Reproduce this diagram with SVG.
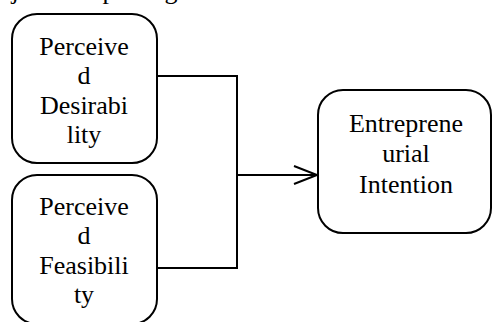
<svg xmlns="http://www.w3.org/2000/svg" width="493" height="322" viewBox="0 0 493 322">
<defs>
<style>
.box{fill:#fff;stroke:#000;stroke-width:2}
.t{font-family:"Liberation Serif","Times New Roman",serif;font-size:26px;fill:#000;text-anchor:middle}
.c{fill:none;stroke:#000;stroke-width:2}
</style>
</defs>
<rect width="493" height="322" fill="#fff"/>
<g id="cut-text">
<text class="t" x="15" y="-1">j</text>
<text class="t" x="109" y="-1">p</text>
<text class="t" x="171" y="-1">g</text>
</g>
<g id="connectors">
<polyline class="c" points="157,76 237,76 237,268 157,268"/>
<line class="c" x1="237" y1="175" x2="317" y2="175"/>
<path class="c" d="M294,166 L317,175 L294,184"/>
</g>
<g id="desirability">
<rect class="box" x="12" y="14" width="145" height="149" rx="25"/>
<text class="t" x="84" y="55">Perceive</text>
<text class="t" x="84" y="84">d</text>
<text class="t" x="84" y="114">Desirabi</text>
<text class="t" x="84" y="143">lity</text>
</g>
<g id="feasibility">
<rect class="box" x="12" y="175" width="145" height="149" rx="25"/>
<text class="t" x="84" y="215">Perceive</text>
<text class="t" x="84" y="244">d</text>
<text class="t" x="84" y="274">Feasibili</text>
<text class="t" x="84" y="303">ty</text>
</g>
<g id="intention">
<rect class="box" x="318" y="90" width="173" height="143" rx="25"/>
<text class="t" x="406" y="132">Entreprene</text>
<text class="t" x="406" y="162">urial</text>
<text class="t" x="406" y="193">Intention</text>
</g>
</svg>
